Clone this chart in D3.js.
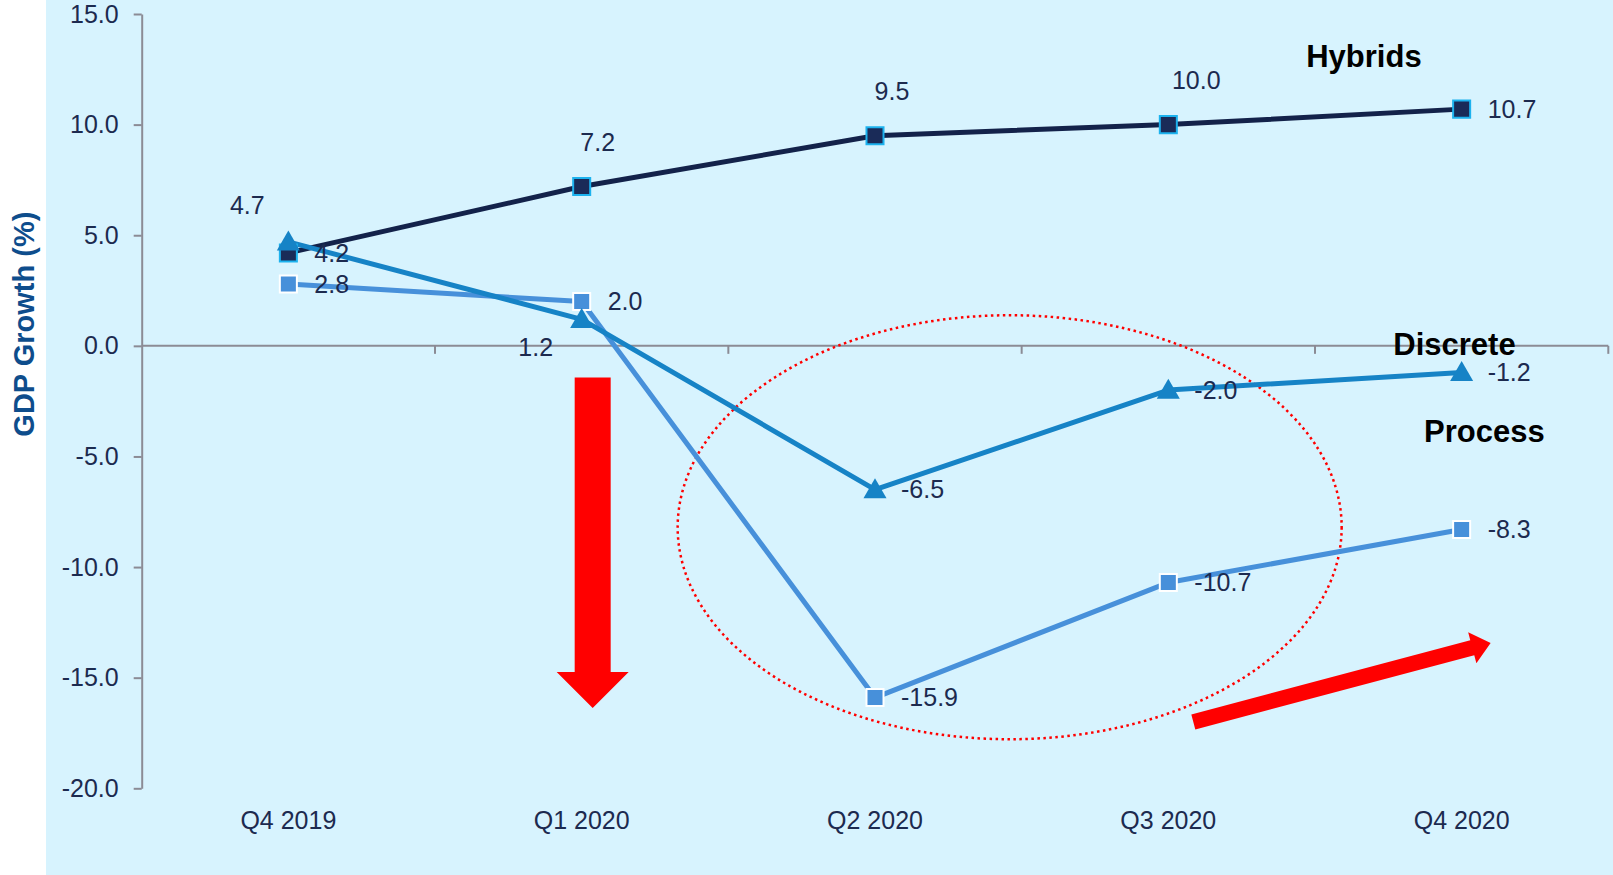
<!DOCTYPE html>
<html>
<head>
<meta charset="utf-8">
<script src="https://cdn.jsdelivr.net/npm/d3@7"></script>
<style>
  body { margin: 0; background: #fff; }
  text { font-family: "Liberation Sans", Arial, sans-serif; }
</style>
</head>
<body>
<div class="canvas"></div>
<script>
// chart data
const categories = ['Q4 2019', 'Q1 2020', 'Q2 2020', 'Q3 2020', 'Q4 2020'];
const hybrids = [4.2, 7.2, 9.5, 10.0, 10.7];
const discrete = [4.7, 1.2, -6.5, -2.0, -1.2];
const process = [2.8, 2.0, -15.9, -10.7, -8.3];
const yTicks = [15, 10, 5, 0, -5, -10, -15, -20];

const dims = {width: 1613, height: 875};
const plot = {left: 141.7, right: 1608.3, top: 14, bottom: 788.3};

const textColor = '#1c2a4f';
const axisColor = '#8b8b95';

const svg = d3.select('.canvas')
    .append('svg')
    .attr('width', dims.width)
    .attr('height', dims.height);

// light blue panel
svg.append('rect')
    .attr('x', 46).attr('y', 0)
    .attr('width', dims.width - 46).attr('height', dims.height)
    .attr('fill', '#d7f3fe');

const x = d3.scaleBand()
    .domain(categories)
    .range([plot.left, plot.right]);

const xc = c => x(c) + x.bandwidth() / 2;

const y = d3.scaleLinear()
    .domain([-20, 15])
    .range([plot.bottom, plot.top]);

// y axis
const yAxis = d3.axisLeft(y)
    .tickValues(yTicks)
    .tickFormat(d => d.toFixed(1))
    .tickSize(8)
    .tickSizeOuter(0)
    .tickPadding(15);

const yAxisGroup = svg.append('g')
    .attr('transform', `translate(${plot.left}, 0)`)
    .call(yAxis);

yAxisGroup.select('.domain').attr('stroke', axisColor).attr('stroke-width', 2);
yAxisGroup.selectAll('.tick line').attr('stroke', axisColor).attr('stroke-width', 2);
yAxisGroup.selectAll('text')
    .attr('fill', textColor)
    .style('font-size', '25px')
    .style('font-family', '"Liberation Sans", Arial, sans-serif');

// zero line with category boundary ticks
svg.append('line')
    .attr('x1', plot.left).attr('x2', plot.right)
    .attr('y1', y(0)).attr('y2', y(0))
    .attr('stroke', axisColor).attr('stroke-width', 2);

svg.selectAll('.xtick')
    .data(categories.slice(1).concat(['end']))
    .enter().append('line')
    .attr('class', 'xtick')
    .attr('x1', d => d === 'end' ? plot.right : x(d))
    .attr('x2', d => d === 'end' ? plot.right : x(d))
    .attr('y1', y(0)).attr('y2', y(0) + 8)
    .attr('stroke', axisColor).attr('stroke-width', 2);

// category labels sit at the bottom of the plot
const xAxisGroup = svg.append('g')
    .attr('transform', `translate(0, ${plot.bottom})`)
    .call(d3.axisBottom(x).tickSize(0).tickPadding(23));

xAxisGroup.select('.domain').remove();
xAxisGroup.selectAll('text')
    .attr('fill', textColor)
    .style('font-size', '25px')
    .style('font-family', '"Liberation Sans", Arial, sans-serif');

// y axis title
svg.append('text')
    .attr('transform', `translate(34, ${(plot.top + plot.bottom) / 2 - 77}) rotate(-90)`)
    .attr('text-anchor', 'middle')
    .attr('fill', '#0e4d8c')
    .attr('font-weight', 'bold')
    .style('font-size', '29px')
    .text('GDP Growth (%)');

// dotted ellipse around the slump
svg.append('ellipse')
    .attr('cx', x('Q3 2020') - 12)
    .attr('cy', y(-8.2))
    .attr('rx', 332)
    .attr('ry', 212)
    .attr('fill', 'none')
    .attr('stroke', '#ff0000')
    .attr('stroke-width', 2.5)
    .attr('stroke-dasharray', '2.5 3.5');

// series
const series = [
    {name: 'Hybrids', values: hybrids, line: '#13224a', fill: '#1a2b58', stroke: '#1cb2ee', shape: 'square'},
    {name: 'Process', values: process, line: '#4790da', fill: '#4790da', stroke: '#ffffff', shape: 'square'},
    {name: 'Discrete', values: discrete, line: '#1683c6', fill: '#1683c6', stroke: 'none', shape: 'triangle'},
];

const line = d3.line()
    .x((d, i) => xc(categories[i]))
    .y(d => y(d));

series.forEach(s => {
    svg.append('path')
        .datum(s.values)
        .attr('d', line)
        .attr('fill', 'none')
        .attr('stroke', s.line)
        .attr('stroke-width', 5)
        .attr('stroke-linejoin', 'round');
});

series.forEach(s => {
    const sym = s.shape === 'square'
        ? d3.symbol().type(d3.symbolSquare).size(290)
        : d3.symbol().type(d3.symbolTriangle).size(230);
    svg.selectAll(`.m-${s.name}`)
        .data(s.values)
        .enter().append('path')
        .attr('class', `m-${s.name}`)
        .attr('d', sym)
        .attr('transform', (d, i) => `translate(${xc(categories[i])}, ${y(d) + (s.shape === 'triangle' ? 2 : 0)})`)
        .attr('fill', s.fill)
        .attr('stroke', s.stroke)
        .attr('stroke-width', 2);
});

// data label placement: [dx, dy, anchor]
const right = [26, 0, 'start'];
const labelLayout = {
    Hybrids: [right, [16, -44, 'middle'], [17, -44, 'middle'], [28, -44, 'middle'], right],
    Discrete: [[-41, -37, 'middle'], [-46, 28, 'middle'], right, right, right],
    Process: [right, right, right, right, right],
};

series.forEach(s => {
    svg.selectAll(`.lbl-${s.name}`)
        .data(s.values)
        .enter().append('text')
        .attr('class', `lbl-${s.name}`)
        .attr('x', (d, i) => xc(categories[i]) + labelLayout[s.name][i][0])
        .attr('y', (d, i) => y(d) + labelLayout[s.name][i][1])
        .attr('dy', '0.35em')
        .attr('text-anchor', (d, i) => labelLayout[s.name][i][2])
        .attr('fill', textColor)
        .style('font-size', '25px')
        .text(d => d.toFixed(1));
});

// series names
const nameLayout = [
    {text: 'Hybrids', x: xc('Q4 2020') - 40, y: y(12.6)},
    {text: 'Discrete', x: xc('Q4 2020') + 54, y: y(-0.42)},
    {text: 'Process', x: xc('Q4 2020') + 83, y: y(-4.34)},
];

svg.selectAll('.sname')
    .data(nameLayout)
    .enter().append('text')
    .attr('class', 'sname')
    .attr('x', d => d.x)
    .attr('y', d => d.y)
    .attr('text-anchor', 'end')
    .attr('font-weight', 'bold')
    .attr('fill', '#000')
    .style('font-size', '31px')
    .text(d => d.text);

// red block arrows
const arrowPath = (x1, y1, x2, y2, shaftW, headW, headL) => {
    const len = Math.hypot(x2 - x1, y2 - y1);
    const ux = (x2 - x1) / len, uy = (y2 - y1) / len;
    const nx = -uy, ny = ux;
    const bx = x2 - ux * headL, by = y2 - uy * headL;
    const pts = [
        [x1 + nx * shaftW / 2, y1 + ny * shaftW / 2],
        [bx + nx * shaftW / 2, by + ny * shaftW / 2],
        [bx + nx * headW / 2, by + ny * headW / 2],
        [x2, y2],
        [bx - nx * headW / 2, by - ny * headW / 2],
        [bx - nx * shaftW / 2, by - ny * shaftW / 2],
        [x1 - nx * shaftW / 2, y1 - ny * shaftW / 2],
    ];
    return 'M' + pts.map(p => p.join(',')).join('L') + 'Z';
};

svg.append('path')
    .attr('d', arrowPath(xc('Q1 2020') + 11, y(-1.43), xc('Q1 2020') + 11, y(-16.37), 36, 72, 36))
    .attr('fill', '#ff0000');

svg.append('path')
    .attr('d', arrowPath(xc('Q3 2020') + 25, y(-17.0), xc('Q4 2020') + 29, y(-13.43), 15.5, 32, 19))
    .attr('fill', '#ff0000');
</script>
</body>
</html>
